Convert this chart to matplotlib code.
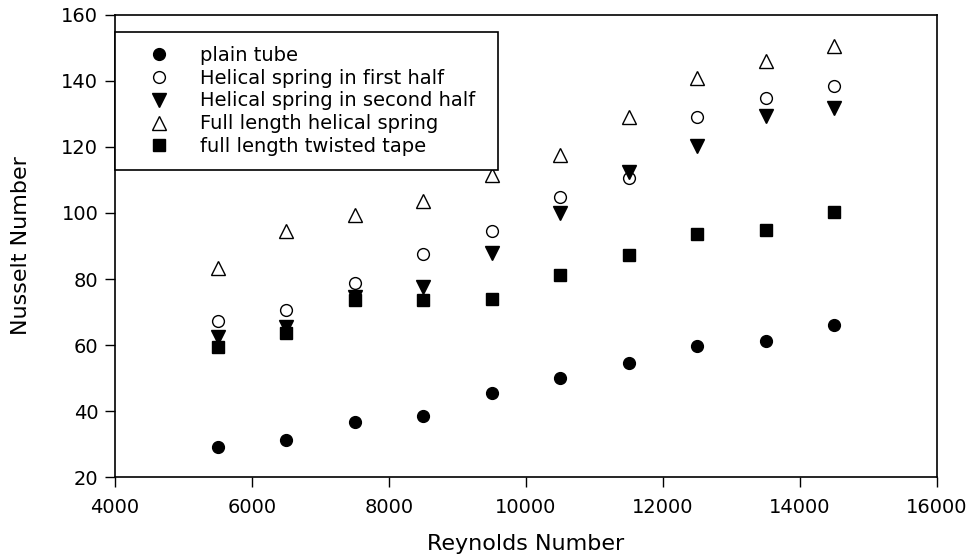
import matplotlib
matplotlib.use("Agg")
import matplotlib.pyplot as plt

plt.rcParams['font.family'] = ['DejaVu Sans']

reynolds = [5500, 6500, 7500, 8500, 9500, 10500, 11500, 12500, 13500, 14500]

plain_tube = [29.0, 31.2, 36.6, 38.5, 45.4, 50.1, 54.5, 59.7, 61.2, 66.0]
spring_first_half = [67.4, 70.6, 78.9, 87.5, 94.6, 104.8, 110.5, 129.0, 134.9, 138.6]
spring_second_half = [62.5, 65.5, 74.6, 77.7, 87.8, 99.9, 112.5, 120.3, 129.4, 131.7]
full_helical_spring = [83.2, 94.5, 99.4, 103.5, 111.5, 117.6, 129.0, 140.8, 146.2, 150.6]
full_twisted_tape = [59.5, 63.7, 73.6, 73.6, 73.9, 81.1, 87.2, 93.5, 94.8, 100.2]

labels = [
    "plain tube",
    "Helical spring in first half",
    "Helical spring in second half",
    "Full length helical spring",
    "full length twisted tape",
]

x_ticks = [4000, 6000, 8000, 10000, 12000, 14000, 16000]
y_ticks = [20, 40, 60, 80, 100, 120, 140, 160]

fig = plt.figure(figsize=(9.72, 5.57), dpi=100)
ax = fig.add_axes([0.1183, 0.1436, 0.8457, 0.8295])

# (values, marker, face colour, marker size)
series = [
    (plain_tube, "o", "black", 8.5),
    (spring_first_half, "o", "white", 8.5),
    (spring_second_half, "v", "black", 9.5),
    (full_helical_spring, "^", "white", 9.5),
    (full_twisted_tape, "s", "black", 8.5),
]
for (vals, mk, fc, ms), lab in zip(series, labels):
    ax.plot(reynolds, vals, linestyle="none", marker=mk, markersize=ms,
            markerfacecolor=fc, markeredgecolor="black", markeredgewidth=1.0,
            label=lab)

ax.set_xlim(4000, 16000)
ax.set_ylim(20, 160)
ax.set_xticks(x_ticks)
ax.set_yticks(y_ticks)
ax.tick_params(direction="out", length=7, width=1, labelsize=14, pad=5)
ax.tick_params(axis="x", pad=8)
for sp in ax.spines.values():
    sp.set_linewidth(1.2)

ax.set_xlabel("Reynolds Number", fontsize=16, labelpad=12)
ax.set_ylabel("Nusselt Number", fontsize=16, labelpad=22)

leg = ax.legend(loc="upper left", bbox_to_anchor=(0.0, 0.665, 0.466, 0.298),
                mode="expand", borderaxespad=0, numpoints=1, fontsize=14,
                fancybox=False, edgecolor="black", framealpha=1,
                handlelength=3.1, handletextpad=0.55, labelspacing=0.2,
                borderpad=0.7)
leg.get_frame().set_linewidth(1.2)

fig.savefig("out.png", dpi=100)
